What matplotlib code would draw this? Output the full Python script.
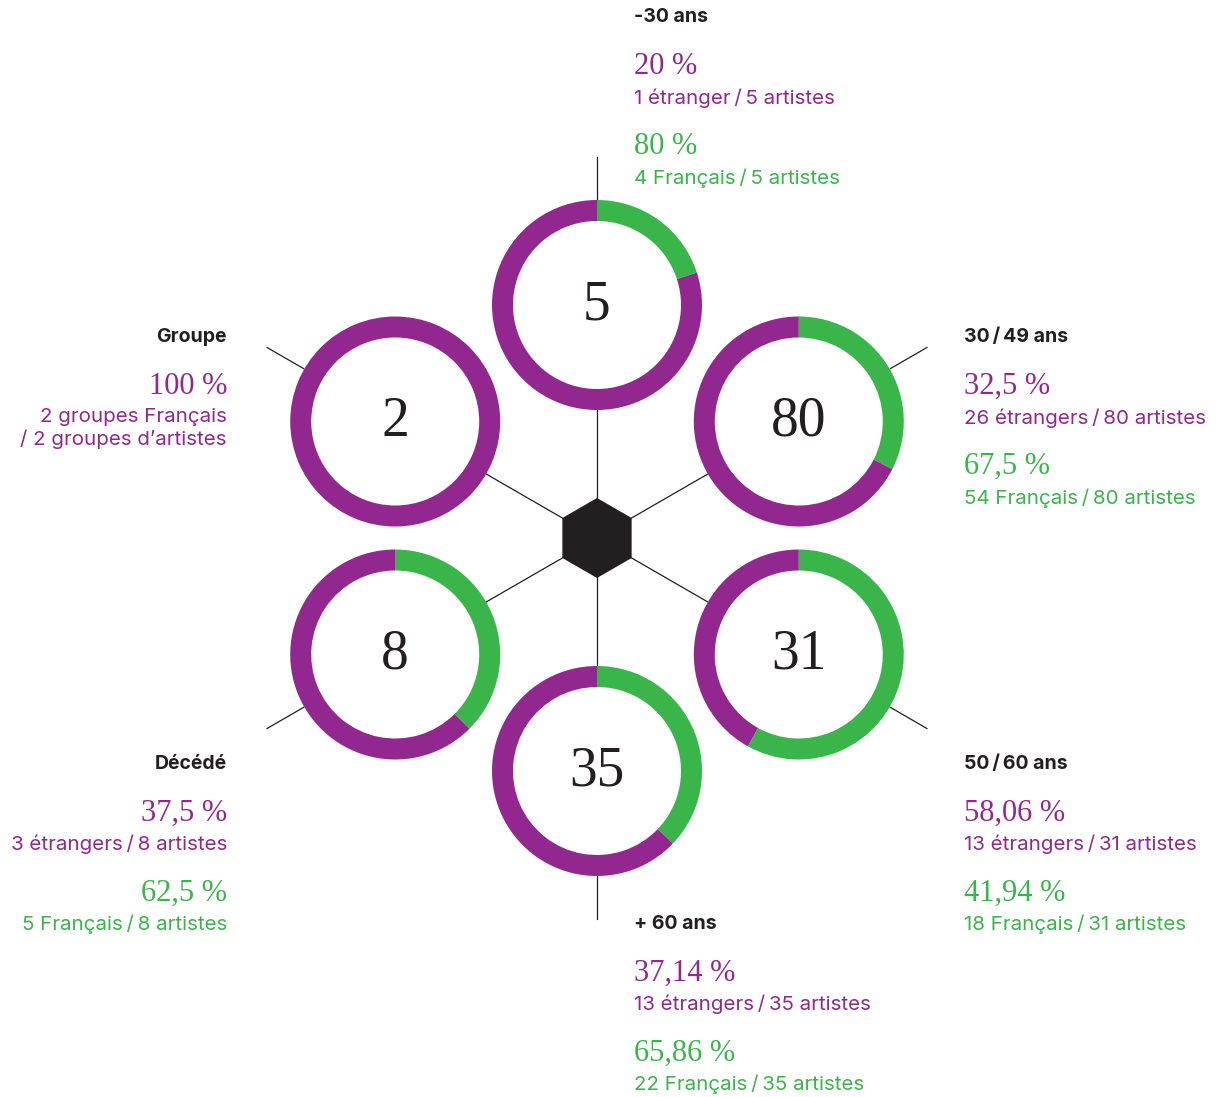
import matplotlib.pyplot as plt
from matplotlib.patches import Wedge, RegularPolygon, Circle
import numpy as np

W, H = 1218, 1097

# donnees
groupes = ['-30 ans', '30\u2009/\u200949 ans', '50\u2009/\u200960 ans', '+ 60 ans', 'Décédé', 'Groupe']
totaux = ['5', '80', '31', '35', '8', '2']
part_etrangers = [20, 32.5, 58.06, 37.14, 37.5, 0]   # arc vert (sens horaire depuis midi)
pct_violet = ['20 %', '32,5 %', '58,06 %', '37,14 %', '37,5 %', '100 %']
desc_violet = ['1 étranger\u2009/\u20095 artistes', '26 étrangers\u2009/\u200980 artistes',
               '13 étrangers\u2009/\u200931 artistes', '13 étrangers\u2009/\u200935 artistes',
               '3 étrangers\u2009/\u20098 artistes', '2 groupes Français\n/ 2 groupes d\u2019artistes']
pct_vert = ['80 %', '67,5 %', '41,94 %', '65,86 %', '62,5 %', None]
desc_vert = ['4 Français\u2009/\u20095 artistes', '54 Français\u2009/\u200980 artistes',
             '18 Français\u2009/\u200931 artistes', '22 Français\u2009/\u200935 artistes',
             '5 Français\u2009/\u20098 artistes', None]

VIOLET = '#92278f'
VERT = '#3ab54a'
NOIR = '#231f20'

sans = ['Inter', 'DejaVu Sans']
deco = ['Liberation Serif', 'DejaVu Serif']

fig = plt.figure(figsize=(W / 100, H / 100), dpi=100)
ax = fig.add_axes([0, 0, 1, 1])
ax.set_xlim(0, W)
ax.set_ylim(0, H)
ax.set_aspect('equal')
ax.axis('off')

cx, cy = 597, H - 538
angles = [90, 30, -30, -90, -150, 150]
dist = 233
r_out, largeur = 105, 21

# rayons
for a in angles:
    t = np.radians(a)
    ax.plot([cx, cx + 381 * np.cos(t)], [cy, cy + 381 * np.sin(t)],
            color=NOIR, lw=0.9, zorder=1)

ax.add_patch(RegularPolygon((cx, cy), 6, radius=40, orientation=0,
                            facecolor=NOIR, edgecolor='none', zorder=3))

for i, a in enumerate(angles):
    t = np.radians(a)
    x, y = cx + dist * np.cos(t), cy + dist * np.sin(t)
    ax.add_patch(Circle((x, y), r_out, facecolor='white', edgecolor='none', zorder=2))
    f = part_etrangers[i] / 100
    if f > 0:
        ax.add_patch(Wedge((x, y), r_out, 90 - 360 * f, 90, width=largeur,
                           facecolor=VERT, edgecolor='none', zorder=3))
    ax.add_patch(Wedge((x, y), r_out, 90, 90 + 360 * (1 - f), width=largeur,
                       facecolor=VIOLET, edgecolor='none', zorder=3))
    ax.text(x, y, totaux[i], fontsize=40, family=deco, color=NOIR,
            ha='center', va='center', zorder=4)

# blocs de texte : (x, y de l'en-tete, alignement)
blocs = [(634, 17, 'left'), (964, 337, 'left'), (964, 764, 'left'),
         (634, 924, 'left'), (227, 764, 'right'), (227, 337, 'right')]

for i, (tx, ty, ha) in enumerate(blocs):
    ax.text(tx, H - ty, groupes[i], fontsize=14, fontweight='bold', family=sans,
            color=NOIR, ha=ha, va='center')
    ax.text(tx, H - ty - 49, pct_violet[i], fontsize=22, family=deco,
            color=VIOLET, ha=ha, va='center')
    ax.text(tx, H - ty - 71, desc_violet[i], fontsize=14.8, family=sans,
            color=VIOLET, ha=ha, va='top', linespacing=1.25)
    if pct_vert[i] is not None:
        ax.text(tx, H - ty - 129, pct_vert[i], fontsize=22, family=deco,
                color=VERT, ha=ha, va='center')
        ax.text(tx, H - ty - 151, desc_vert[i], fontsize=14.8, family=sans,
                color=VERT, ha=ha, va='top')

fig.savefig('out.png', dpi=100, facecolor='white')
